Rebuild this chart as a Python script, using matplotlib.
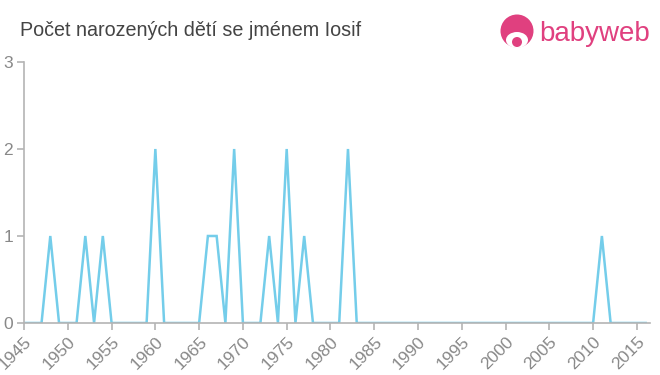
import numpy as np
import matplotlib
matplotlib.use('Agg')
from matplotlib import pyplot as plt
from matplotlib.patches import Circle, Ellipse

plt.rcParams['font.family'] = ['Liberation Sans', 'DejaVu Sans']

years = list(range(1945, 2017))
counts = [0] * len(years)
births = {1948: 1, 1952: 1, 1954: 1, 1960: 2, 1966: 1, 1967: 1, 1969: 2,
          1973: 1, 1975: 2, 1977: 1, 1982: 2, 2011: 1}
for y, c in births.items():
    counts[years.index(y)] = c

xticks = list(range(1945, 2020, 5))
yticks = [0, 1, 2, 3]

fig = plt.figure(figsize=(6.6, 3.75), dpi=100)
ax = fig.add_axes([0.0364, 0.1387, 0.9485, 0.696])
ax.plot(years, counts, color='#74cdea', lw=1.8, solid_joinstyle='miter')
ax.set_xlim(1945, 2016.5)
ax.set_ylim(0, 3)
ax.set_xticks(xticks)
ax.set_yticks(yticks)
ax.set_xticklabels([str(x) for x in xticks], rotation=45, ha='right', va='top',
                   rotation_mode='anchor')
for s in ['top', 'right']:
    ax.spines[s].set_visible(False)
for s in ['left', 'bottom']:
    ax.spines[s].set_color('#b4b4b4')
    ax.spines[s].set_linewidth(1.2)
ax.tick_params(colors='#b4b4b4', labelcolor='#888888', labelsize=12.5, length=5, width=1.2)
ax.tick_params(axis='y', pad=3)
ax.tick_params(axis='x', pad=3)

fig.text(20 / 660, 1 - 31 / 375, 'Počet narozených dětí se jménem Iosif', fontsize=14.2,
         color='#444444', va='center', ha='left')

# logo
pink = '#e0407f'
lax = fig.add_axes([500 / 660, 1 - 48 / 375, 34 / 660, 34 / 375])
lax.set_xlim(0, 34)
lax.set_ylim(0, 34)
lax.axis('off')
lax.add_patch(Circle((17, 17), 16.5, facecolor=pink, edgecolor='none'))
lax.add_patch(Ellipse((17, 8), 22, 16, facecolor='white', edgecolor='none'))
lax.add_patch(Circle((17, 6), 5, facecolor=pink, edgecolor='none'))
fig.text(539 / 660, 1 - 34 / 375, 'babyweb', fontsize=20, color=pink, va='center', ha='left')

fig.savefig('out.png', dpi=100)
